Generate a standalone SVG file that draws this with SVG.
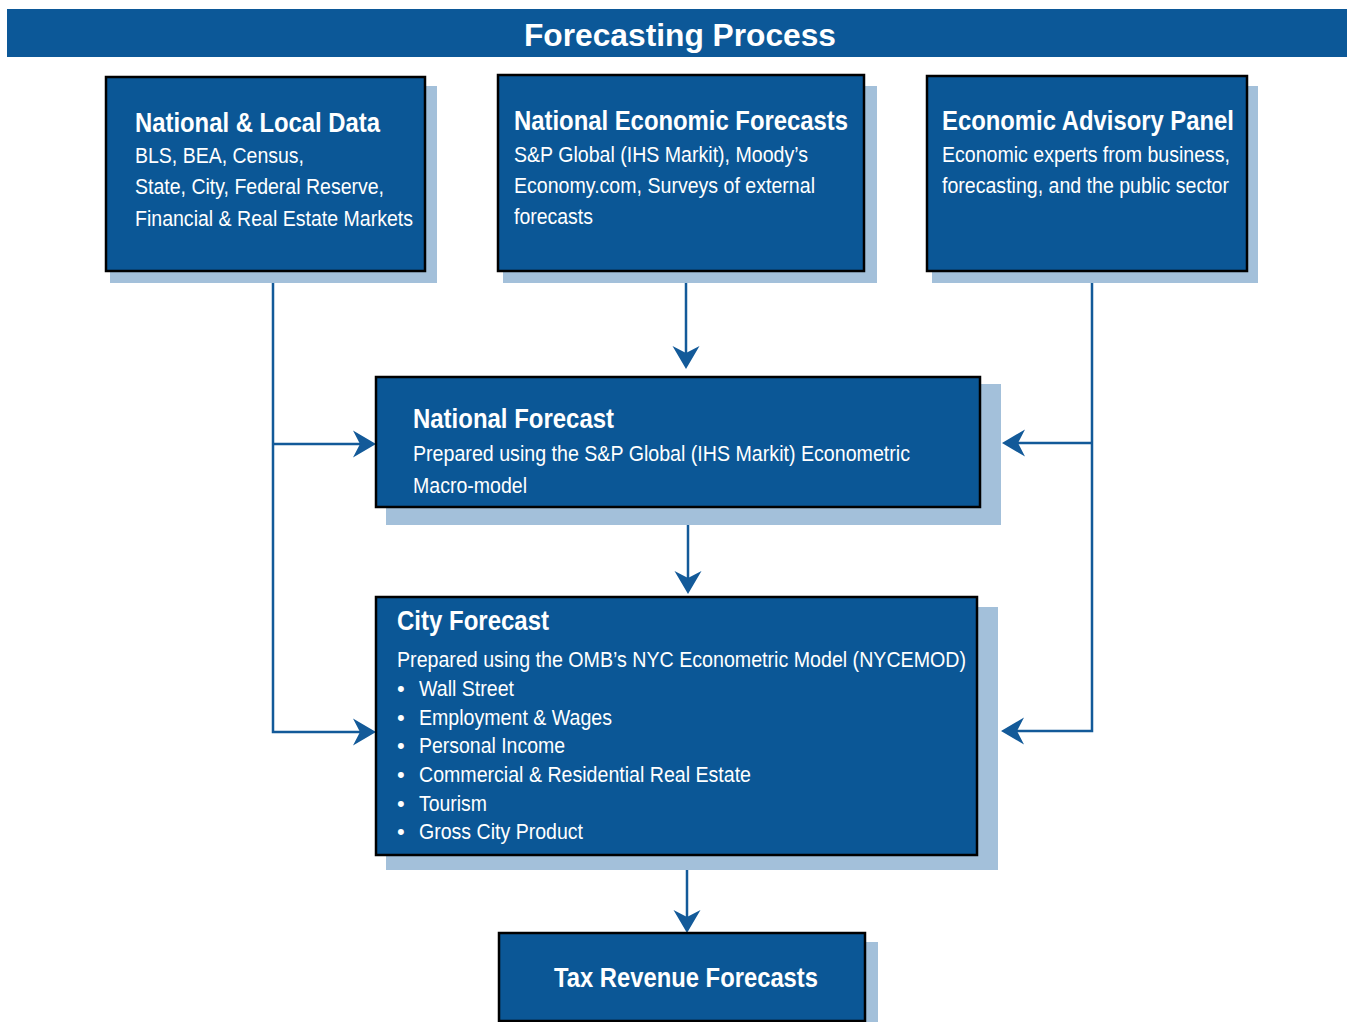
<svg xmlns="http://www.w3.org/2000/svg" width="1347" height="1022" viewBox="0 0 1347 1022">
<style>
.box{fill:#0b5796;stroke:#000;stroke-width:2.5}
.sh{fill:#a3c0da}
.t{font-family:"Liberation Sans",Arial,sans-serif;font-weight:bold;font-size:27px;fill:#fff}
.b{font-family:"Liberation Sans",Arial,sans-serif;font-size:22px;fill:#fff}
.c{fill:none;stroke:#135a99;stroke-width:2.5}
</style>
<defs>
<marker id="ah" markerUnits="userSpaceOnUse" viewBox="-24 -15 25 30" markerWidth="25" markerHeight="30" refX="-12" refY="0" orient="auto" overflow="visible">
<path d="M0,0 L-23,-13.5 L-16,0 L-23,13.5 Z" fill="#135a99"/>
</marker>
</defs>
<rect width="1347" height="1022" fill="#fff"/>
<g id="header">
<rect x="7" y="9" width="1340" height="48" fill="#0c5898"/>
<text x="680" y="46" text-anchor="middle" font-family="Liberation Sans,Arial,sans-serif" font-weight="bold" font-size="31" fill="#fff" textLength="312" lengthAdjust="spacingAndGlyphs">Forecasting Process</text>
</g>
<g id="connectors">
<path class="c" d="M686,283 V357" marker-end="url(#ah)"/>
<path class="c" d="M273,283 V732 H364" marker-end="url(#ah)"/>
<path class="c" d="M273,444 H364" marker-end="url(#ah)"/>
<path class="c" d="M1092,283 V731 H1013" marker-end="url(#ah)"/>
<path class="c" d="M1092,443 H1014" marker-end="url(#ah)"/>
<path class="c" d="M688,525 V582" marker-end="url(#ah)"/>
<path class="c" d="M687,870 V921" marker-end="url(#ah)"/>
</g>
<g id="n1">
<rect class="sh" x="110" y="86" width="327" height="197"/>
<rect class="box" x="106" y="77" width="319" height="194"/>
<text class="t" x="135" y="132" textLength="245" lengthAdjust="spacingAndGlyphs">National &amp; Local Data</text>
<text class="b" x="135" y="163" textLength="169" lengthAdjust="spacingAndGlyphs">BLS, BEA, Census,</text>
<text class="b" x="135" y="194" textLength="249" lengthAdjust="spacingAndGlyphs">State, City, Federal Reserve,</text>
<text class="b" x="135" y="226" textLength="278" lengthAdjust="spacingAndGlyphs">Financial &amp; Real Estate Markets</text>
</g>
<g id="n2">
<rect class="sh" x="503" y="86" width="374" height="197"/>
<rect class="box" x="498" y="75" width="366" height="196"/>
<text class="t" x="514" y="130" textLength="334" lengthAdjust="spacingAndGlyphs">National Economic Forecasts</text>
<text class="b" x="514" y="162" textLength="294" lengthAdjust="spacingAndGlyphs">S&amp;P Global (IHS Markit), Moody’s</text>
<text class="b" x="514" y="193" textLength="301" lengthAdjust="spacingAndGlyphs">Economy.com, Surveys of external</text>
<text class="b" x="514" y="224" textLength="79" lengthAdjust="spacingAndGlyphs">forecasts</text>
</g>
<g id="n3">
<rect class="sh" x="932" y="86" width="326" height="197"/>
<rect class="box" x="927" y="76" width="320" height="195"/>
<text class="t" x="942" y="130" textLength="292" lengthAdjust="spacingAndGlyphs">Economic Advisory Panel</text>
<text class="b" x="942" y="162" textLength="288" lengthAdjust="spacingAndGlyphs">Economic experts from business,</text>
<text class="b" x="942" y="193" textLength="287" lengthAdjust="spacingAndGlyphs">forecasting, and the public sector</text>
</g>
<g id="n4">
<rect class="sh" x="386" y="384" width="615" height="141"/>
<rect class="box" x="376" y="377" width="604" height="130"/>
<text class="t" x="413" y="428" textLength="201" lengthAdjust="spacingAndGlyphs">National Forecast</text>
<text class="b" x="413" y="461" textLength="497" lengthAdjust="spacingAndGlyphs">Prepared using the S&amp;P Global (IHS Markit) Econometric</text>
<text class="b" x="413" y="493" textLength="114" lengthAdjust="spacingAndGlyphs">Macro-model</text>
</g>
<g id="n5">
<rect class="sh" x="386" y="607" width="612" height="263"/>
<rect class="box" x="376" y="597" width="601" height="258"/>
<text class="t" x="397" y="630" textLength="152" lengthAdjust="spacingAndGlyphs">City Forecast</text>
<text class="b" x="397" y="667" textLength="569" lengthAdjust="spacingAndGlyphs">Prepared using the OMB’s NYC Econometric Model (NYCEMOD)</text>
<text class="b" x="397" y="696">•</text>
<text class="b" x="419" y="696" textLength="95" lengthAdjust="spacingAndGlyphs">Wall Street</text>
<text class="b" x="397" y="725">•</text>
<text class="b" x="419" y="725" textLength="193" lengthAdjust="spacingAndGlyphs">Employment &amp; Wages</text>
<text class="b" x="397" y="753">•</text>
<text class="b" x="419" y="753" textLength="146" lengthAdjust="spacingAndGlyphs">Personal Income</text>
<text class="b" x="397" y="782">•</text>
<text class="b" x="419" y="782" textLength="332" lengthAdjust="spacingAndGlyphs">Commercial &amp; Residential Real Estate</text>
<text class="b" x="397" y="811">•</text>
<text class="b" x="419" y="811" textLength="68" lengthAdjust="spacingAndGlyphs">Tourism</text>
<text class="b" x="397" y="839">•</text>
<text class="b" x="419" y="839" textLength="164" lengthAdjust="spacingAndGlyphs">Gross City Product</text>
</g>
<g id="n6">
<rect class="sh" x="510" y="942" width="368" height="82"/>
<rect class="box" x="499" y="933" width="366" height="88"/>
<text class="t" x="554" y="987" textLength="264" lengthAdjust="spacingAndGlyphs">Tax Revenue Forecasts</text>
</g>
</svg>
